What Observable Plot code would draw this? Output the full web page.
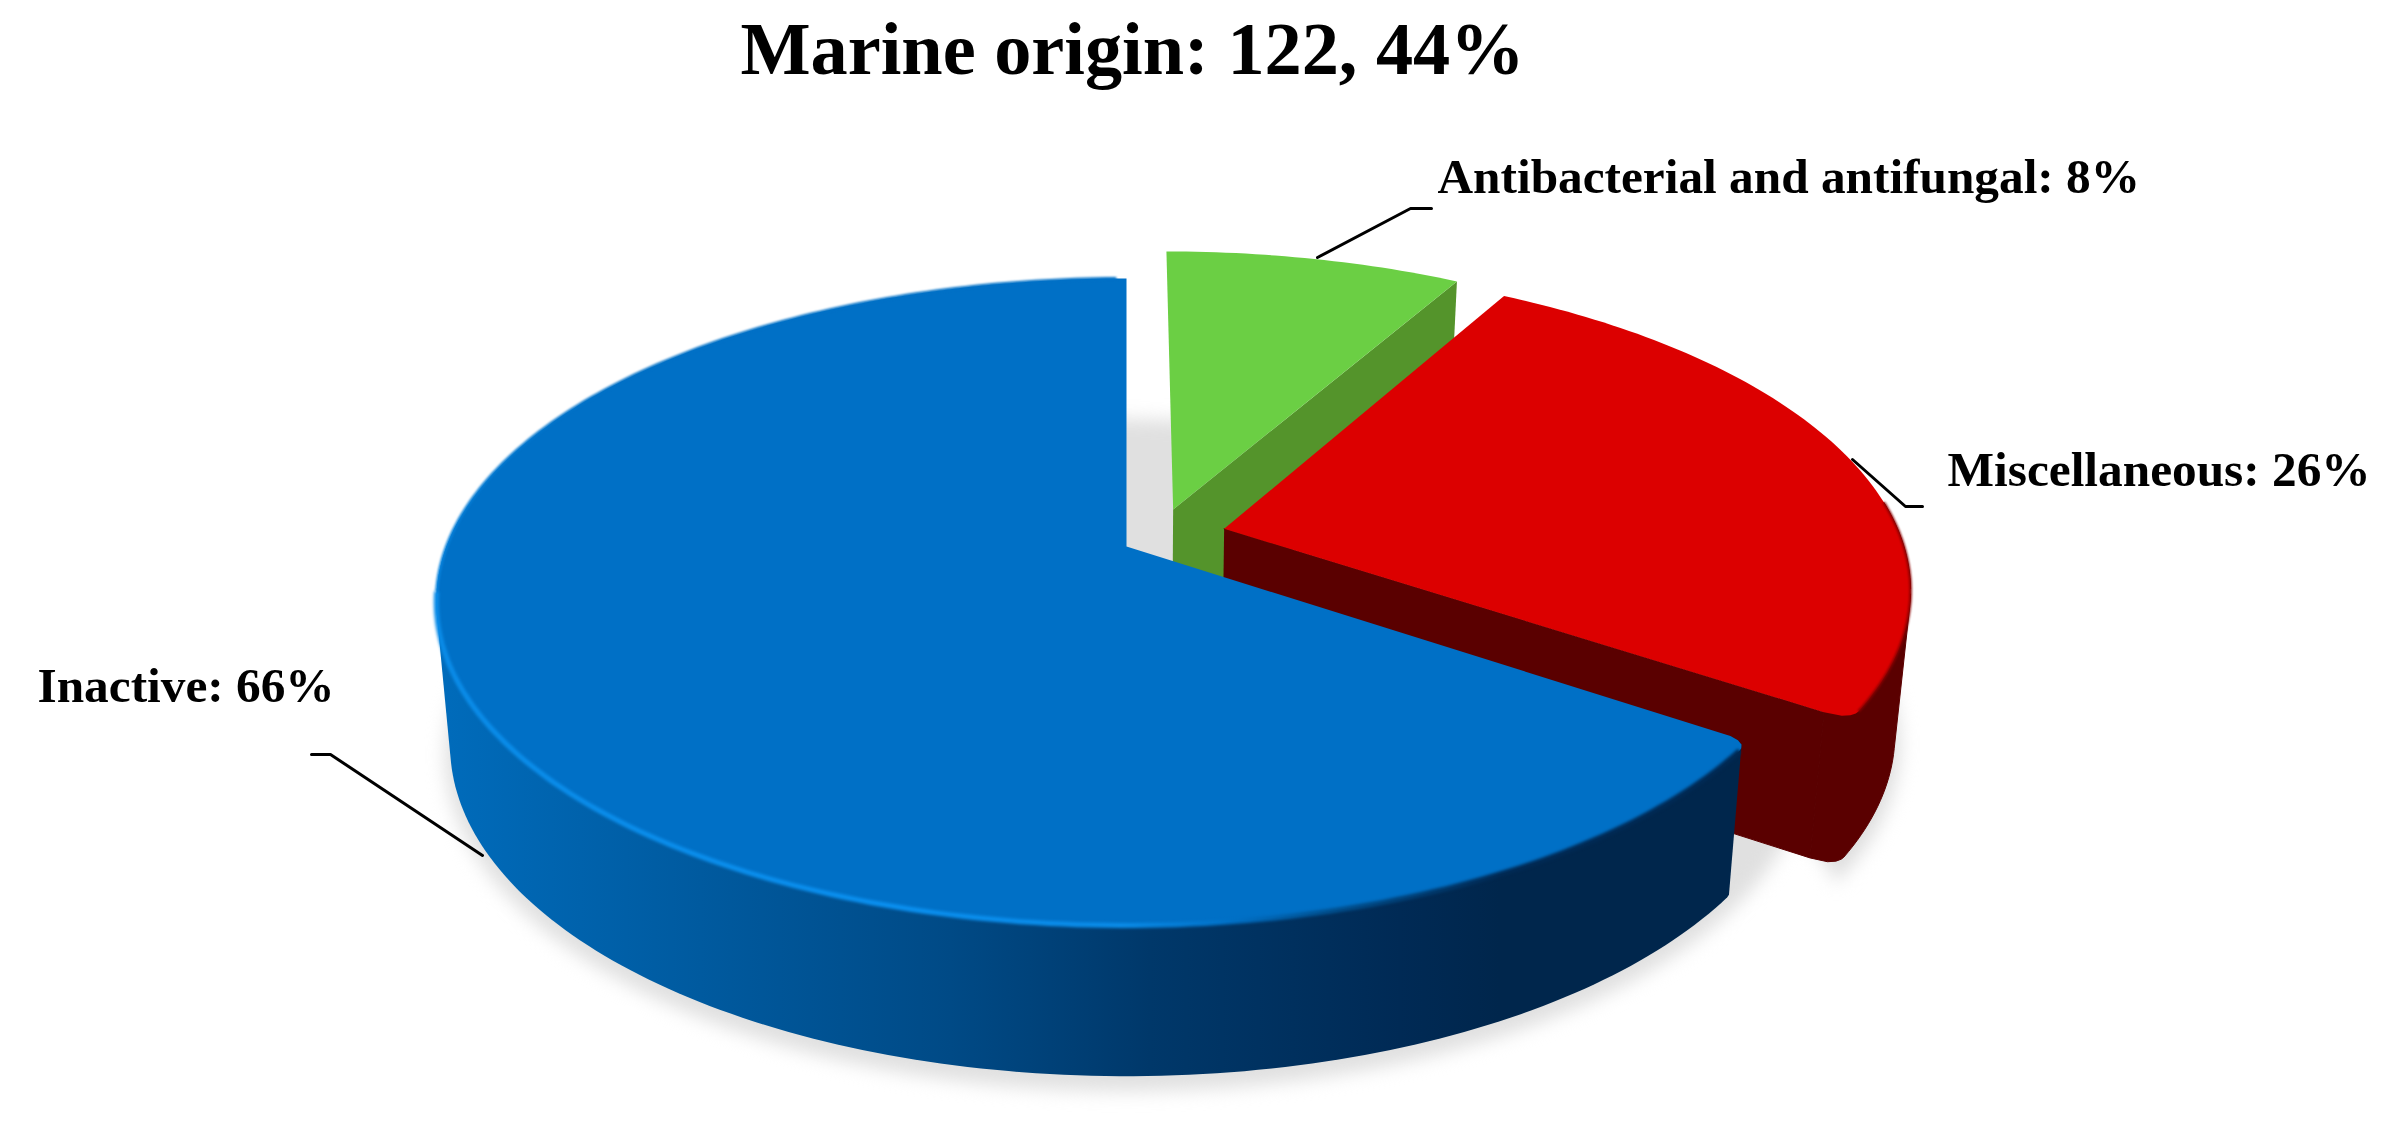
<!DOCTYPE html>
<html>
<head>
<meta charset="utf-8">
<style>html,body{margin:0;padding:0;background:#fff}svg{display:block}</style>
<script src="https://cdn.jsdelivr.net/npm/d3@7"></script>
<script src="https://cdn.jsdelivr.net/npm/@observablehq/plot@0.6"></script>
</head>
<body>
<script>
// ---- data ----
const chartTitle = "Marine origin: 122, 44%";
const categories = ["Antibacterial and antifungal", "Miscellaneous", "Inactive"];
const shownPercent = [8, 26, 66];
const sliceShare = [8.3, 26.2, 65.5];       // slice sweep measured on the rim
const explodeX = [0.07, 0.145, 0];          // slice pull-out, in pie radii
const explodeY = [0.12, 0.057, 0];
const cornerRadius = [1, 0.962, 0.973];     // bevel softening of the front corner
const topColors = ["#6bcf44", "#dc0000", "#0070c6"];
const wallColors = ["#54942b", "#5a0000", "#00508f"];

// ---- annotation layout ----
const labelX = [1437, 1947, 37];
const labelBaseline = [192, 485, 701];
const labelSize = 49.3;
const leaders = [
  [[1317, 257], [1410, 208], [1431, 208]],
  [[1852, 459], [1905, 506], [1922, 506]],
  [[482, 855], [330, 754], [311, 754]]
];

// ---- perspective model of the tilted disc ----
const CX = 1126, CY = 546, A = 680, B = 314, P = 0.1715, S = 0.98;
const proj = (X, Y, low) => {
  const w = 1 + P * Y;
  return {x: CX + (A * X / w) * (low ? S : 1), y: CY - B * Y / w + (low ? 100 + 42 / w : 0)};
};
const total = d3.sum(sliceShare);
const ends = d3.cumsum(sliceShare).map(v => v / total * 360);
const slices = categories.map((name, i) => ({
  name, i, a0: i ? ends[i - 1] : 0, a1: ends[i], ox: explodeX[i], oy: explodeY[i]
}));
const [green, red, blue] = slices;
const disc = {ox: 0, oy: 0, a0: 0, a1: 360};

const at = (s, deg, r, low) => {
  const t = deg * Math.PI / 180;
  return proj(s.ox + r * Math.sin(t), s.oy + r * Math.cos(t), low);
};
const rim = (s, low, a0 = s.a0, a1 = s.a1) => {
  const n = Math.max(2, Math.ceil(Math.abs(a1 - a0)));
  return d3.range(n + 1).map(k => at(s, a0 + (a1 - a0) * k / n, 1, low));
};
const apex = (s, low) => proj(s.ox, s.oy, low);
// rounded front corner, listed from the rim towards the cut edge
const corner = (s, deg, dir, low) => [
  at(s, deg + dir * 1.2, 0.999, low), at(s, deg + dir * 0.7, 0.995, low),
  at(s, deg + dir * 0.25, 0.986, low), at(s, deg, cornerRadius[s.i], low)
];
const hull = pts => d3.polygonHull(pts.map(p => [p.x, p.y])).map(([x, y]) => ({x, y}));

const greenTop = [apex(green, false), ...rim(green, false)];
const greenWall = [apex(green, false), at(green, green.a1, 1, false), at(green, green.a1, 1, true), apex(green, true)];

const redEnd = red.a1 - 1.6;
const redTop = [apex(red, false), ...rim(red, false, red.a0, redEnd), ...corner(red, red.a1, -1, false)];
const redSide = hull([...rim(red, false, 85, redEnd), ...rim(red, true, 85, redEnd),
  ...corner(red, red.a1, -1, false), ...corner(red, red.a1, -1, true)]);
const redWall = [apex(red, false), at(red, red.a1, cornerRadius[1], false),
  at(red, red.a1, cornerRadius[1], true), apex(red, true)];

const blueStart = blue.a0 + 1.6;
const blueTop = [apex(blue, false), ...corner(blue, blue.a0, 1, false).reverse(), ...rim(blue, false, blueStart, blue.a1)];
const blueFront = hull([...rim(blue, false, blueStart, 275), ...rim(blue, true, blueStart, 275),
  ...corner(blue, blue.a0, 1, false), ...corner(blue, blue.a0, 1, true)]);

const poly = (pts, fill, extra = {}) =>
  Plot.line(pts, {x: "x", y: "y", fill, stroke: "none", curve: "linear", ...extra});
const edge = (pts, stroke, strokeWidth, extra = {}) =>
  Plot.line(pts, {x: "x", y: "y", stroke, strokeWidth, curve: "linear", strokeLinecap: "butt", ...extra});

const gradient = (id, axis, list) => {
  const g = d3.create("svg:linearGradient").attr("id", id).attr("gradientUnits", "userSpaceOnUse");
  if (axis === "x") g.attr("x1", 0).attr("x2", 2396).attr("y1", 0).attr("y2", 0);
  else g.attr("x1", 0).attr("x2", 0).attr("y1", 0).attr("y2", 1126);
  const span = axis === "x" ? 2396 : 1126;
  list.forEach(([v, c]) => g.append("stop").attr("offset", v / span).attr("stop-color", c));
  return g.node();
};
const defs = () => {
  const d = d3.create("svg:defs");
  d.append(() => gradient("blueSide", "x", [[431, "#006cbc"], [700, "#005a9f"], [950, "#004a86"],
    [1150, "#00386a"], [1400, "#002a55"], [1500, "#00264c"], [1740, "#00264c"]]));
  d.append(() => gradient("blueRim", "x", [[431, "#0a8ce8"], [900, "#0a90f0"], [1120, "#0a8ce8"],
    [1230, "#0070c6"], [1330, "#00508f"], [1500, "#002a55"], [1740, "#002a55"]]));
  d.append(() => gradient("blueFade", "y", [[380, "#0070c6"], [660, "#0a8ce8"]]));
  return d.node();
};

const labels = categories.map((c, i) => ({
  text: `${c}: ${shownPercent[i]}%`, x: labelX[i], y: labelBaseline[i] - 0.32 * labelSize
}));
const leaderPts = leaders.flatMap((l, i) => l.map(([x, y]) => ({x, y, i})));
const shadow = {stroke: "#e0e0e0", strokeWidth: 10, dy: 10, imageFilter: "blur(9px)"};

const chart = Plot.plot({
  width: 2396, height: 1126, margin: 0,
  x: {domain: [0, 2396], range: [0, 2396], axis: null},
  y: {domain: [0, 1126], range: [0, 1126], axis: null},
  style: {background: "#fff", overflow: "visible"},
  marks: [
    defs,
    // soft ground shadow
    poly(rim(disc, true), "#e0e0e0", shadow),
    poly(rim(red, true), "#dcdcdc", shadow),

    // green slice
    poly(greenWall, wallColors[0]),
    poly(greenTop, topColors[0]),

    // red slice
    poly(redSide, wallColors[1], {stroke: wallColors[1], strokeWidth: 1}),
    poly(redWall, wallColors[1], {stroke: wallColors[1], strokeWidth: 1}),
    poly(redTop, topColors[1]),
    edge(rim(red, false, 85, redEnd), "#8a0000", 2.5, {imageFilter: "blur(1.2px)"}),

    // blue slice
    poly(blueFront, "url(#blueSide)"),
    poly(blueTop, topColors[2]),
    edge(rim(blue, false, blueStart, 262), "url(#blueRim)", 5, {imageFilter: "blur(1.4px)"}),
    edge(rim(blue, false, 262, 359), "url(#blueFade)", 3, {imageFilter: "blur(1px)"}),

    // leaders and labels
    Plot.line(leaderPts, {x: "x", y: "y", z: "i", stroke: "#000", strokeWidth: 3, curve: "linear", strokeLinejoin: "miter"}),
    Plot.text(labels, {x: "x", y: "y", text: "text", textAnchor: "start", fontFamily: "Liberation Serif",
      fontWeight: "bold", fontSize: labelSize, fill: "#000"}),
    Plot.text([chartTitle], {x: [1132], y: [73 - 0.32 * 74.3], text: d => d, textAnchor: "middle",
      fontFamily: "Liberation Serif", fontWeight: "bold", fontSize: 74.3, fill: "#000"})
  ]
});
document.body.append(chart);
</script>
</body>
</html>
